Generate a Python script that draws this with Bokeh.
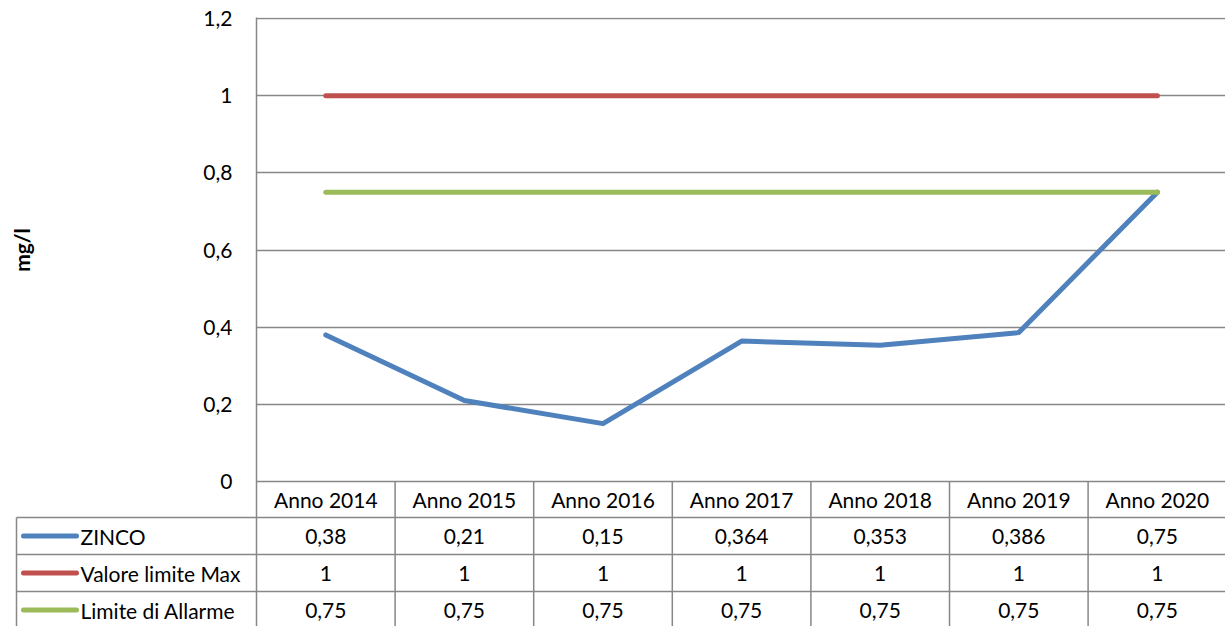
import math
from bokeh.plotting import figure
from bokeh.models import Range1d, FixedTicker, CustomJSTickFormatter
from bokeh.core.properties import value
from bokeh.embed import file_html
from bokeh.resources import INLINE

# ---------------- data ----------------
categories = ["Anno 2014", "Anno 2015", "Anno 2016", "Anno 2017", "Anno 2018", "Anno 2019", "Anno 2020"]
zinco = [0.38, 0.21, 0.15, 0.364, 0.353, 0.386, 0.75]
valore_limite_max = [1, 1, 1, 1, 1, 1, 1]
limite_allarme = [0.75, 0.75, 0.75, 0.75, 0.75, 0.75, 0.75]
series_names = ["ZINCO", "Valore limite Max", "Limite di Allarme"]
series_colors = ["#4F81BD", "#C0504D", "#9BBB59"]
y_ticks = [0, 0.2, 0.4, 0.6, 0.8, 1.0, 1.2]
y_label = "mg/l"

# ---------------- layout constants (pixels) ----------------
FONT = "Lato"
FS = "21px"
GRID = "#878787"
W, H = 1225, 626
LEFT = 256          # frame left = category boundary 0
TOP = 17            # frame top
CAT_PX = 138.6      # px per category
Y_PX = 385.8        # px per mg/l
Y0_PX = 481         # canvas px of y = 0
ROW_PX = 37         # table row height
HEADER_TOP = 480

def px2x(px):
    return (px - LEFT) / CAT_PX

def px2y(py):
    return (Y0_PX - py) / Y_PX

def fmt(v):
    return ("%g" % v).replace(".", ",")

n = len(categories)
xs = [i + 0.5 for i in range(n)]

p = figure(width=W, height=H, output_backend="svg", toolbar_location=None,
           x_axis_location=None,
           x_range=Range1d(0, px2x(W)),
           y_range=Range1d(px2y(H), px2y(TOP)),
           min_border_left=LEFT, min_border_right=0, min_border_top=TOP,
           min_border_bottom=0)
p.outline_line_color = None
p.background_fill_color = "white"
p.border_fill_color = "white"
p.xgrid.visible = False
p.ygrid.ticker = FixedTicker(ticks=y_ticks)
p.ygrid.grid_line_color = GRID
p.ygrid.grid_line_width = 1.5

ax = p.yaxis[0]
ax.ticker = FixedTicker(ticks=y_ticks)
ax.formatter = CustomJSTickFormatter(code="""
const s = (Math.round(tick*10)/10).toString();
return s.replace('.', ',');
""")
ax.axis_line_color = GRID
ax.axis_line_width = 1.5
ax.major_tick_line_color = None
ax.minor_tick_line_color = None
ax.major_label_standoff = 18
ax.major_label_text_font = FONT
ax.major_label_text_font_size = FS
ax.major_label_text_color = "black"

# axis title (rotated) centred on the value area
p.text(x=[px2x(21)], y=[sum(y_ticks[::len(y_ticks) - 1]) / 2], text=[y_label], angle=math.pi / 2,
       text_align="center", text_baseline="middle", text_font=value(FONT),
       text_font_size="21px", text_font_style="bold", text_color="black", level="overlay")

# series lines
for vals, col in zip([zinco, valore_limite_max, limite_allarme], series_colors):
    p.line(xs, vals, line_color=col, line_width=5, line_cap="round", line_join="round")

# ---------------- data table ----------------
row_y = [px2y(HEADER_TOP + k * ROW_PX) for k in range(5)]       # row borders
row_c = [px2y(HEADER_TOP + (k + 0.5) * ROW_PX) for k in range(4)]  # row centres
tab_left = px2x(16)
bottom = px2y(H + 20)
right = px2x(W + 20)

# vertical dividers between categories
p.segment(x0=[float(k) for k in range(1, n + 1)], y0=[0] * n,
          x1=[float(k) for k in range(1, n + 1)], y1=[bottom] * n,
          line_color=GRID, line_width=1.5, level="overlay")
# left border of series-name column
p.segment(x0=[tab_left], y0=[row_y[1]], x1=[tab_left], y1=[bottom],
          line_color=GRID, line_width=1.5, level="overlay")
# horizontal row borders
p.segment(x0=[tab_left] * 3, y0=row_y[1:4], x1=[right] * 3, y1=row_y[1:4],
          line_color=GRID, line_width=1.5, level="overlay")

# header row
p.text(x=xs, y=[row_c[0]] * n, text=categories, text_align="center", text_baseline="middle",
       text_font=value(FONT), text_font_size=FS, text_color="black", level="overlay")

# series rows
for r, (name, vals, col) in enumerate(zip(series_names,
                                          [zinco, valore_limite_max, limite_allarme],
                                          series_colors)):
    yc = row_c[r + 1]
    p.segment(x0=[px2x(23)], y0=[yc], x1=[px2x(76)], y1=[yc], line_color=col,
              line_width=5, line_cap="round", level="overlay")
    p.text(x=[px2x(80)], y=[yc], text=[name], text_align="left", text_baseline="middle",
           text_font=value(FONT), text_font_size=FS, text_color="black", level="overlay")
    p.text(x=xs, y=[yc] * n, text=[fmt(v) for v in vals], text_align="center",
           text_baseline="middle", text_font=value(FONT), text_font_size=FS,
           text_color="black", level="overlay")

open("out.html", "w").write(file_html(p, INLINE))
